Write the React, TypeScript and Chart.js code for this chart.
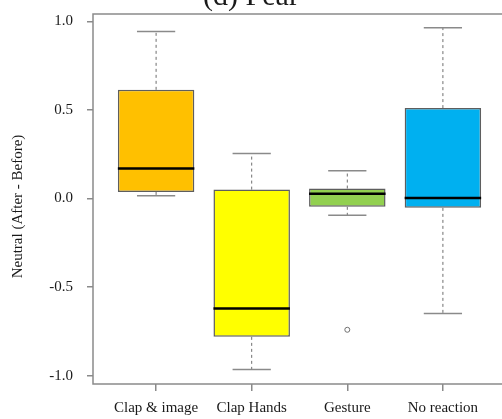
import React, { useEffect, useRef } from 'react';
import { Chart, registerables } from 'chart.js';

Chart.register(...registerables);

// ---- data ----
const categories = ['Clap & image', 'Clap Hands', 'Gesture', 'No reaction'];
const positions = [1, 2, 3, 4];
const whiskerLow = [0.015, -0.965, -0.094, -0.649];
const q1 = [0.037, -0.781, -0.047, -0.053];
const medians = [0.169, -0.621, 0.026, 0.002];
const q3 = [0.613, 0.05, 0.056, 0.51];
const whiskerHigh = [0.942, 0.254, 0.156, 0.963];
const outlierCategory = [3];
const outlierValues = [-0.741];
const yTicks = [-1.0, -0.5, 0.0, 0.5, 1.0];
const boxColors = ['#FFC000', '#FFFF00', '#92D050', '#00B0F0'];
const titleText = '(d) Fear';
const yTitleText = 'Neutral (After - Before)';

const FONT = '"Liberation Serif", "Times New Roman", serif';
const AXIS_COLOR = '#8a8a8a';
const TEXT_COLOR = '#1a1a1a';

const boxExtras = {
  id: 'boxExtras',
  afterDatasetsDraw(chart: any) {
    const { ctx } = chart;
    const y = chart.scales.y;
    const meta = chart.getDatasetMeta(0);
    ctx.save();
    meta.data.forEach((bar: any, i: number) => {
      const xc = bar.x;
      const half = bar.width / 2;
      const capHalf = half / 2;
      const yq1 = y.getPixelForValue(q1[i]);
      const yq3 = y.getPixelForValue(q3[i]);
      const ylo = y.getPixelForValue(whiskerLow[i]);
      const yhi = y.getPixelForValue(whiskerHigh[i]);
      // dashed whiskers
      ctx.strokeStyle = '#6e6e6e';
      ctx.lineWidth = 1;
      ctx.setLineDash([3, 3]);
      ctx.beginPath();
      ctx.moveTo(xc, yq3);
      ctx.lineTo(xc, yhi);
      ctx.moveTo(xc, yq1);
      ctx.lineTo(xc, ylo);
      ctx.stroke();
      // caps
      ctx.setLineDash([]);
      ctx.strokeStyle = AXIS_COLOR;
      ctx.lineWidth = 1.5;
      ctx.beginPath();
      ctx.moveTo(xc - capHalf, yhi);
      ctx.lineTo(xc + capHalf, yhi);
      ctx.moveTo(xc - capHalf, ylo);
      ctx.lineTo(xc + capHalf, ylo);
      ctx.stroke();
      // median
      const ym = y.getPixelForValue(medians[i]);
      ctx.strokeStyle = '#000';
      ctx.lineWidth = 2.5;
      ctx.beginPath();
      ctx.moveTo(xc - half, ym);
      ctx.lineTo(xc + half, ym);
      ctx.stroke();
    });
    ctx.restore();
  },
  afterDraw(chart: any) {
    const { ctx, chartArea } = chart;
    ctx.save();
    // frame
    ctx.strokeStyle = AXIS_COLOR;
    ctx.lineWidth = 1.5;
    ctx.strokeRect(chartArea.left, chartArea.top, chartArea.right - chartArea.left, chartArea.bottom - chartArea.top);
    // main title (partly cut off at the top, as in the reference)
    ctx.fillStyle = TEXT_COLOR;
    ctx.font = '30px ' + FONT;
    ctx.textAlign = 'center';
    ctx.textBaseline = 'alphabetic';
    ctx.fillText(titleText, 251, 25);
    // y axis title
    ctx.font = '15px ' + FONT;
    ctx.translate(18, 226.5);
    ctx.rotate(-Math.PI / 2);
    ctx.textAlign = 'center';
    ctx.textBaseline = 'middle';
    ctx.fillText(yTitleText, 0, 0);
    ctx.restore();
  },
};

export default function App() {
  const ref = useRef<HTMLCanvasElement | null>(null);

  useEffect(() => {
    if (!ref.current) return;
    const chart = new Chart(ref.current, {
      type: 'bar',
      data: {
        datasets: [
          {
            type: 'bar',
            data: positions.map((p, i) => ({ x: p, y: [q1[i], q3[i]] })) as any,
            backgroundColor: boxColors,
            borderColor: '#5e5e5e',
            borderWidth: 1.5,
            borderSkipped: false,
            categoryPercentage: 0.8,
            barPercentage: 1,
          } as any,
          {
            type: 'scatter',
            data: outlierCategory.map((c, i) => ({ x: c, y: outlierValues[i] })),
            pointStyle: 'circle',
            pointRadius: 2.5,
            borderColor: '#707070',
            backgroundColor: '#ffffff',
            borderWidth: 1,
          } as any,
        ],
      },
      options: {
        animation: false,
        responsive: false,
        layout: { padding: { left: 9, right: 14, top: 34, bottom: 0 } },
        plugins: {
          legend: { display: false },
          tooltip: { enabled: false },
          title: { display: false },
        },
        scales: {
          x: {
            type: 'linear',
            offset: false,
            min: 0.34,
            max: 4.66,
            afterBuildTicks: (s: any) => {
              s.ticks = positions.map((v) => ({ value: v }));
            },
            afterFit: (s: any) => {
              s.height = 35;
            },
            ticks: {
              autoSkip: false,
              maxRotation: 0,
              padding: 8,
              color: TEXT_COLOR,
              font: { family: FONT, size: 15 },
              callback: (v: any) => categories[positions.indexOf(Number(v))] ?? '',
            },
            grid: {
              offset: false,
              drawOnChartArea: false,
              drawTicks: true,
              tickLength: 7,
              color: AXIS_COLOR,
              lineWidth: 1.5,
            },
            border: { display: false },
          },
          y: {
            type: 'linear',
            min: -1.047,
            max: 1.041,
            afterBuildTicks: (s: any) => {
              s.ticks = yTicks.map((v) => ({ value: v }));
            },
            afterFit: (s: any) => {
              s.width = 84;
            },
            ticks: {
              padding: 14,
              color: TEXT_COLOR,
              font: { family: FONT, size: 15 },
              callback: (v: any) => Number(v).toFixed(1),
            },
            grid: {
              drawOnChartArea: false,
              drawTicks: true,
              tickLength: 6,
              color: AXIS_COLOR,
              lineWidth: 1.5,
            },
            border: { display: false },
          },
        },
      } as any,
      plugins: [boxExtras],
    });
    return () => chart.destroy();
  }, []);

  return (
    <div style={{ position: 'absolute', left: 0, top: 0, width: 502, height: 419, overflow: 'hidden', background: '#fff' }}>
      <canvas
        ref={ref}
        width={520}
        height={439}
        style={{ position: 'absolute', left: 0, top: -20, display: 'block' }}
      />
    </div>
  );
}
